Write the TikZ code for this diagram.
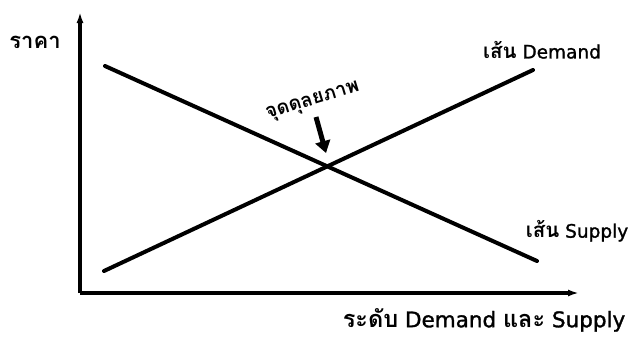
\documentclass[tikz,border=0pt]{standalone}
\usepackage{fontspec}
\setmainfont[BoldFont={DejaVu Sans},BoldFeatures={FakeBold=1.4}]{DejaVu Sans}
\newfontfamily\thaifont[Script=Thai,BoldFont={* Bold}]{Loma}
\newcommand{\thw}[1]{{\thaifont\bfseries #1}}
\usetikzlibrary{arrows.meta}
\usetikzlibrary{positioning}

\begin{document}
\begin{tikzpicture}[x=1pt,y=-1pt]
\useasboundingbox (0,0) rectangle (641,338);

\coordinate (origin) at (80,293);
\coordinate (ytip)   at (80,12);
\coordinate (xtip)   at (579,293);
\coordinate (d_lo)   at (104,271);
\coordinate (d_hi)   at (533,70);
\coordinate (s_hi)   at (105,66);
\coordinate (s_lo)   at (537,261);
\coordinate (eq_from) at (316,117);
\coordinate (eq_to)   at (326,153);

\begin{scope}[every node/.style={inner sep=0pt},
              lbl/.style={font=\bfseries\fontsize{18.5}{22}\selectfont}]
    \node (price)   at (35,42)   {\fontsize{22}{24}\selectfont\thw{ราคา}};
    \node[lbl] (demand)  at (542,50)  {{\fontsize{20.5}{24}\selectfont\thw{เส้น}} Demand};
    \node[lbl] (supply)  at (577,231) {{\fontsize{20.5}{24}\selectfont\thw{เส้น}} Supply};
    \node[font=\bfseries\fontsize{21.5}{25}\selectfont] (qty) at (484,320)
        {{\fontsize{23.5}{26}\selectfont\thw{ระดับ}} Demand {\fontsize{23.5}{26}\selectfont\thw{และ}} Supply};
    \node[rotate=17] (eq) at (313,102) {\fontsize{19.5}{21}\selectfont\thw{จุดดุลยภาพ}};
\end{scope}

\begin{scope}[line width=4pt]
    \draw [-{Latex[length=11pt,width=7pt]}] (origin) -- (ytip);
    \draw [-{Latex[length=11pt,width=7pt]}] (origin) -- (xtip);
    \draw [line cap=round] (d_lo) -- (d_hi);
    \draw [line cap=round] (s_hi) -- (s_lo);
    \draw [line width=5pt,-{Triangle[length=12pt,width=15pt]}] (eq_from) -- (eq_to);
\end{scope}
\end{tikzpicture}
\end{document}
